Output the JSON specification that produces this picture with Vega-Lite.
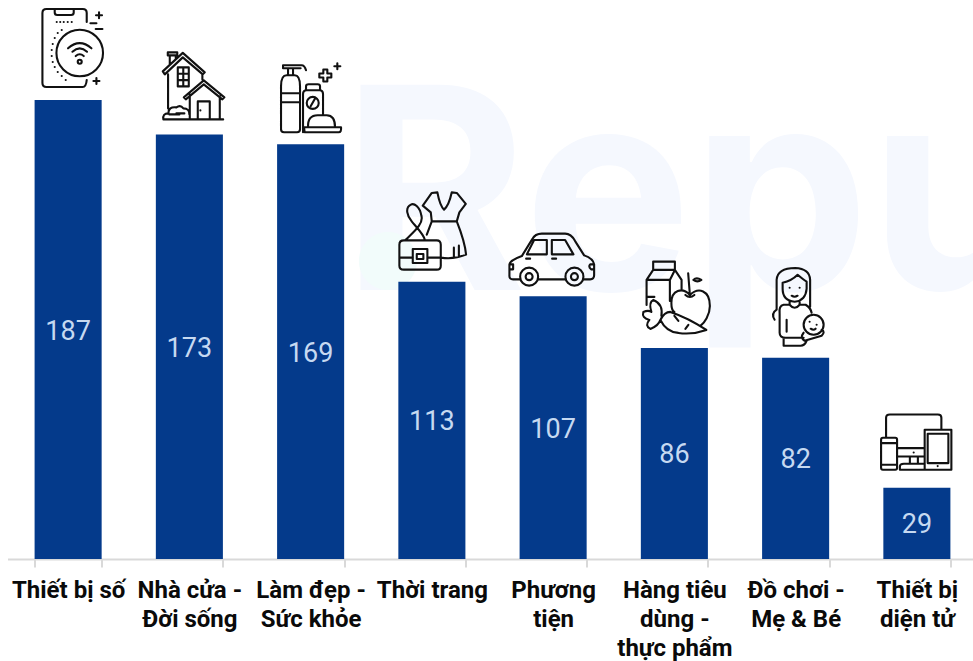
{
"$schema":"https://vega.github.io/schema/vega-lite/v6.json",
"width":970,"height":559,
"autosize":"none",
"padding":{"left":7.5,"top":0,"right":0,"bottom":102},
"background":"white",
"config":{"view":{"stroke":null},"font":"Roboto"},
"data":{"values":[
{"category":"Thiết bị số","value":187},
{"category":"Nhà cửa - Đời sống","value":173},
{"category":"Làm đẹp - Sức khỏe","value":169},
{"category":"Thời trang","value":113},
{"category":"Phương tiện","value":107},
{"category":"Hàng tiêu dùng - thực phẩm","value":86},
{"category":"Đồ chơi - Mẹ & Bé","value":82},
{"category":"Thiết bị diện tử","value":29}
]},
"encoding":{
"x":{"field":"category","type":"nominal","sort":null,"title":null,
"scale":{"domain":["Thiết bị số","Nhà cửa - Đời sống","Làm đẹp - Sức khỏe","Thời trang","Phương tiện","Hàng tiêu dùng - thực phẩm","Đồ chơi - Mẹ & Bé","Thiết bị diện tử"],"paddingInner":0.447,"paddingOuter":0.2235},
"axis":{"labelAngle":0,"labelFont":"Roboto","labelFontSize":24,"labelFontWeight":"bold","labelColor":"#0a0a0a","labelOverlap":false,"labelLimit":0,"labelLineHeight":29,"labelPadding":11,"domainColor":"#d9d9d9","domainWidth":2,"tickColor":"#d9d9d9","tickWidth":2,"tickSize":8,"tickBand":"extent","grid":false,
"labelExpr":"{'Nhà cửa - Đời sống':['Nhà cửa -','Đời sống'],'Làm đẹp - Sức khỏe':['Làm đẹp -','Sức khỏe'],'Phương tiện':['Phương','tiện'],'Hàng tiêu dùng - thực phẩm':['Hàng tiêu','dùng -','thực phẩm'],'Đồ chơi - Mẹ & Bé':['Đồ chơi -','Mẹ & Bé'],'Thiết bị diện tử':['Thiết bị','diện tử']}[datum.label]||datum.label"}}
},
"layer":[
{"data":{"values":[{"brand":"Repu"}]},
"mark":{"type":"text","font":"Inter","fontSize":282,"fontWeight":700,"align":"left","baseline":"alphabetic","color":"#f5f8fe","dx":-90},
"encoding":{"x":{"datum":"Thời trang","type":"nominal"},"y":{"datum":109.6,"type":"quantitative","scale":{"domain":[0,227.75]},"axis":null},"text":{"field":"brand"}}},
{"data":{"values":[{"brand":"Repu"}]},
"mark":{"type":"point","filled":true,"opacity":1,"size":4,"color":"#f2fcfb","shape":"M -73 -29 a29 29 0 1 0 58 0 a29 29 0 1 0 -58 0"},
"encoding":{"x":{"datum":"Thời trang","type":"nominal"},"y":{"datum":109.6,"type":"quantitative","scale":{"domain":[0,227.75]},"axis":null}}},
{"mark":{"type":"bar","color":"#043a8b"},
"encoding":{"y":{"field":"value","type":"quantitative","scale":{"domain":[0,227.75]},"axis":null}}},
{"mark":{"type":"text","font":"Roboto","fontSize":27,"color":"#c6d9f1","baseline":"middle","align":"center","dy":2},
"encoding":{"y":{"field":"value","type":"quantitative","scale":{"domain":[0,455.5]},"axis":null},"text":{"field":"value","type":"quantitative"}}},
{"mark":{"type":"point","filled":false,"opacity":1,"size":4,"stroke":"#111111","strokeWidth":2.1,"strokeCap":"round","strokeJoin":"round"},
"encoding":{"y":{"field":"value","type":"quantitative","scale":{"domain":[0,227.75]},"axis":null},
"shape":{"field":"category","type":"nominal","legend":null,"scale":{
"domain":["Thiết bị số","Nhà cửa - Đời sống","Làm đẹp - Sức khỏe","Thời trang","Phương tiện","Hàng tiêu dùng - thực phẩm","Đồ chơi - Mẹ & Bé","Thiết bị diện tử"],
"range":[
"M18.6 -78V-87Q18.6 -91 14.6 -91H-21.7Q-25.7 -91 -25.7 -87V-17Q-25.7 -13 -21.7 -13H14.6Q18 -13 18.6 -20M-13.4 -91V-87.5Q-13.4 -85 -11 -85H3Q5.6 -85 5.6 -87.5V-91M-11.4 -78h.01M-7.9 -78h.01M-4.4 -78h.01M-.4 -78h.01M3.6 -78h.01M-6.4 -70h.01M-10.4 -67h.01M-13.4 -62h.01M-15.4 -56h.01M-16.4 -50h.01M-16.4 -44h.01M-15.4 -38h.01M-13.4 -33h.01M-10.4 -28h.01M-6.4 -24h.01M-2.4 -20h.01M-11.7 -47a23.3 23.3 0 1 0 46.6 0a23.3 23.3 0 1 0 -46.6 0M-.1 -51.7Q11.6 -62 23.3 -51.7M4.3 -48.3Q11.6 -55 18.9 -48.3M7.6 -44Q11.6 -47.5 15.6 -44M9.6 -38.3a2 2 0 1 0 4 0a2 2 0 1 0 -4 0M27.9 -84.7h6M30.9 -87.7v6M25.3 -19h6M28.3 -22v6M22.3 -76.7h6M27.6 -71h6.7",
"M-26.6 -63L-6.6 -81.5L15.4 -62L13.4 -60L-6.6 -77L-24.6 -60ZM-21.6 -82h9.5v3h-9.5zM-19.6 -79v9M-13.6 -79v4M-21.3 -60V-26M13 -60V-55M-11.6 -67h11v19h-11zM-6.1 -67v19M-11.6 -60.7h11M-11.6 -54.3h11M-5.6 -37L14.4 -54L35 -37L33 -35L14.4 -50L-3.6 -35ZM.4 -40V-15M30.4 -38V-15M8.4 -15V-33H20.4V-15M11 -24h.01M-26 -15H33.8M-26 -15Q-27 -21 -21 -21Q-21 -28 -13 -27Q-9 -30 -6 -26Q0 -26 0 -20M-20 -20H-10M-13 -21H-5",
"M-29.6 -58V-15Q-29.6 -12 -26.6 -12H-13.6Q-10.6 -12 -10.6 -15V-58Q-10.6 -69 -16 -69H-24Q-29.6 -69 -29.6 -58ZM-29.6 -51H-10.6M-29.6 -42H-10.6M-22.6 -76v7M-17.6 -76v7M-27.6 -79H-9Q-6 -79 -4.6 -74M-27.6 -79v3H-10M-4.6 -54v-4Q-4.6 -60 -2 -60H7Q9.4 -60 9.4 -58V-54M-7.6 -12V-50Q-7.6 -54 -4 -54H9Q12.4 -54 12.4 -50V-30M-3.9 -41.3a6 6 0 1 0 12 0a6 6 0 1 0 -12 0M0 -38L4 -45M-6.6 -17H30.4Q31 -12 28 -12H-6ZM-2.6 -17Q-3 -29 7 -29H16Q24.4 -29 24.4 -17M12.7 -74.7h4v4h4v4h-4v4h-4v-4h-4v-4h4zM23.7 -78h6M26.7 -81v6",
"M-.1 -60.3L-1.1 -69.3L-9.1 -76L-.1 -88.7L5.5 -89.3Q8 -76 12.2 -72Q17 -76 19.9 -89.3L24.9 -88.7L33.9 -77.7L27.5 -69.3L24.9 -60.3ZM24.9 -60.3Q33 -40 34.2 -27Q22 -22 9 -24M-.1 -60.3L-5.1 -47M22 -34V-24M27 -36V-25M-28 -41.3H4.9Q8.9 -41.3 8.9 -37V-16Q8.9 -12 4.9 -12H-28Q-32.5 -12 -32.5 -16V-37Q-32.5 -41.3 -28 -41.3ZM-32.5 -24H-19M-4 -24H8.9M-19.1 -32.7H-4.5V-18.7H-19.1ZM-15.1 -27.7H-8.5V-22.7H-15.1ZM-26.8 -41.3C-18 -50 -8 -58 -10.5 -66C-12 -75 -18 -79 -21 -77C-27 -74 -25 -66 -20 -60C-14 -53 -8 -47 -6.8 -41.3",
"M-33 -17H-40Q-44 -17 -43.7 -21V-32Q-43 -36 -31.3 -40.3L-21 -57Q-18 -62.7 -11.3 -62.7H12Q18 -62.7 22 -55.3L31 -41Q40 -38 41 -32V-21Q41 -17 37 -17H30.3M-14.7 -17H12M-33 -19.7a9 9 0 1 0 18 0a9 9 0 1 0 -18 0M-27.5 -19.7a3.5 3.5 0 1 0 7 0a3.5 3.5 0 1 0 -7 0M12.3 -19.7a9 9 0 1 0 18 0a9 9 0 1 0 -18 0M17.8 -19.7a3.5 3.5 0 1 0 7 0a3.5 3.5 0 1 0 -7 0M-26.3 -42L-19 -56.3H-6.3V-42ZM-1.3 -56.3H12L20.3 -42H-1.3ZM-27 -37.7h4M-1 -37.7h4M-43 -32h3v5h-3M41 -32h-4Q35 -30 38 -27h3",
"M-21.2 -78V-86.3H.5V-78ZM-21.2 -78L-27.8 -68V-43M-27.8 -68H-4.5V-47M.5 -78L7.2 -68V-58M.5 -78L-4.5 -68M-27.8 -51H-20M15.5 -53C8 -61 -3 -58 -3 -45C-3 -40 -2 -37 0 -36M15.5 -53C24 -61 35.5 -58 35.5 -42C35.5 -33 30 -25 26 -22M15.5 -53L13.8 -74.7M11 -53Q15.5 -49 20 -53M19 -68Q22 -71 27 -68Q23 -65 19 -68ZM-14 -28Q-10 -36 -4 -36Q14 -30 32 -18Q18 -13 4 -15Q-8 -16 -14 -28M-14 -28Q-16 -22 -24 -19Q-30 -22 -25 -28Q-33 -30 -31 -36Q-26 -38 -23 -36Q-26 -46 -21 -48Q-11 -44 -13 -32M0 -32l4 5M14 -23l-3 4",
"M-19 -48V-78Q-18 -89.7 -.5 -89.7Q14 -89 14.5 -78V-51M-13 -75Q-4 -77 2 -83Q8 -78 11 -76V-69Q10 -57 -1 -56Q-13 -57 -13 -69ZM-6 -70h.01M4 -70h.01M-4 -62Q-1 -60 2 -62M-6 -57v4Q-1 -47 4 -53v-4M-6 -53H-12Q-17 -52 -16 -44L-16 -25Q-16 -20 -10 -20H8M4 -53H10Q15 -50 16 -45M-19 -48Q-25 -44 -21 -38M-9 -38V-26M-12 -20V-12H5Q9 -12 11 -17M8 -33a10 10 0 1 0 20 0a10 10 0 1 0 -20 0M14 -36h.01M21 -33h.01M15 -29Q18 -27 20 -29M8 -25Q4 -20 9 -17L26 -22Q30 -26 26 -28",
"M-30.8 -50.7V-70Q-30.8 -73.3 -27 -73.3H21Q24.5 -73.3 24.5 -70V-58M-19.2 -39.7H7.5M-19.2 -31.3H7.5M-3.2 -35.3h.01M-7 -31V-24M1 -31V-24M7.5 -18H-17V-21Q-17 -24 -13 -24H7.5M-34 -50H-21.6Q-19.8 -50 -19.8 -48V-20Q-19.8 -18 -21.6 -18H-34Q-35.8 -18 -35.8 -20V-48Q-35.8 -50 -34 -50ZM-35.8 -44.7H-19.8M-35.8 -23H-19.8M7.8 -58H34.5V-18H7.8ZM10.8 -54H31.5V-24.7H10.8ZM20.8 -21.7h.01"
]}}}}
],
"resolve":{"scale":{"y":"independent"}}
}
